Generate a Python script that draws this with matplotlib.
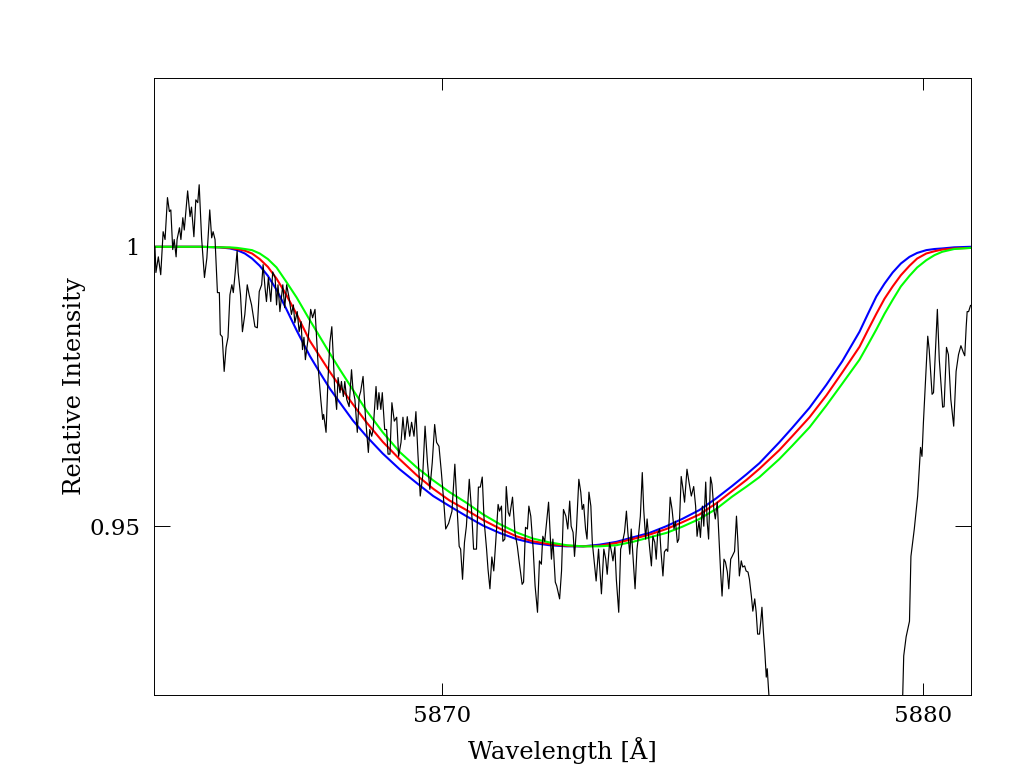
import matplotlib
matplotlib.use("Agg")
import matplotlib.pyplot as plt

wave_obs = [
    5864.02, 5864.04, 5864.09, 5864.14, 5864.19, 5864.23, 5864.28, 5864.32, 5864.35, 5864.39,
    5864.42, 5864.46, 5864.48, 5864.53, 5864.56, 5864.60, 5864.63, 5864.70, 5864.75, 5864.78,
    5864.83, 5864.87, 5864.91, 5864.94, 5864.99, 5865.05, 5865.10, 5865.16, 5865.20, 5865.23,
    5865.27, 5865.32, 5865.36, 5865.38, 5865.42, 5865.46, 5865.50, 5865.54, 5865.58, 5865.62,
    5865.65, 5865.68, 5865.73, 5865.75, 5865.80, 5865.84, 5865.89, 5865.94, 5865.98, 5866.03,
    5866.06, 5866.10, 5866.15, 5866.19, 5866.24, 5866.27, 5866.31, 5866.34, 5866.38, 5866.43,
    5866.47, 5866.52, 5866.55, 5866.58, 5866.62, 5866.68, 5866.72, 5866.76, 5866.81, 5866.86,
    5866.90, 5866.93, 5866.98, 5867.02, 5867.06, 5867.09, 5867.12, 5867.15, 5867.21, 5867.26,
    5867.30, 5867.35, 5867.42, 5867.47, 5867.51, 5867.53, 5867.58, 5867.62, 5867.66, 5867.70,
    5867.73, 5867.76, 5867.80, 5867.83, 5867.87, 5867.90, 5867.94, 5867.97, 5868.01, 5868.06,
    5868.11, 5868.14, 5868.18, 5868.23, 5868.27, 5868.30, 5868.35, 5868.40, 5868.46, 5868.49,
    5868.53, 5868.56, 5868.62, 5868.65, 5868.68, 5868.72, 5868.75, 5868.80, 5868.84, 5868.87,
    5868.91, 5868.95, 5869.00, 5869.05, 5869.09, 5869.14, 5869.18, 5869.22, 5869.27, 5869.32,
    5869.36, 5869.41, 5869.45, 5869.49, 5869.54, 5869.59, 5869.64, 5869.69, 5869.74, 5869.79,
    5869.84, 5869.88, 5869.93, 5869.98, 5870.03, 5870.07, 5870.13, 5870.20, 5870.26, 5870.31,
    5870.35, 5870.38, 5870.42, 5870.46, 5870.50, 5870.56, 5870.61, 5870.65, 5870.71, 5870.75,
    5870.79, 5870.83, 5870.87, 5870.92, 5870.95, 5870.99, 5871.03, 5871.07, 5871.11, 5871.16,
    5871.19, 5871.23, 5871.26, 5871.30, 5871.33, 5871.37, 5871.40, 5871.46, 5871.51, 5871.56,
    5871.61, 5871.66, 5871.69, 5871.73, 5871.77, 5871.80, 5871.84, 5871.89, 5871.93, 5871.98,
    5872.02, 5872.06, 5872.09, 5872.13, 5872.16, 5872.21, 5872.27, 5872.30, 5872.35, 5872.38,
    5872.44, 5872.48, 5872.52, 5872.57, 5872.61, 5872.65, 5872.68, 5872.72, 5872.75, 5872.79,
    5872.84, 5872.88, 5872.91, 5872.94, 5872.98, 5873.01, 5873.05, 5873.09, 5873.12, 5873.15,
    5873.20, 5873.25, 5873.31, 5873.36, 5873.40, 5873.43, 5873.48, 5873.52, 5873.55, 5873.59,
    5873.62, 5873.67, 5873.71, 5873.74, 5873.79, 5873.83, 5873.86, 5873.90, 5873.93, 5873.96,
    5874.01, 5874.05, 5874.08, 5874.12, 5874.16, 5874.19, 5874.23, 5874.26, 5874.31, 5874.35,
    5874.38, 5874.42, 5874.45, 5874.48, 5874.52, 5874.55, 5874.59, 5874.62, 5874.66, 5874.69,
    5874.74, 5874.78, 5874.82, 5874.85, 5874.89, 5874.92, 5874.97, 5875.00, 5875.04, 5875.09,
    5875.13, 5875.18, 5875.23, 5875.27, 5875.30, 5875.34, 5875.37, 5875.41, 5875.44, 5875.48,
    5875.51, 5875.54, 5875.58, 5875.61, 5875.65, 5875.68, 5875.72, 5875.75, 5875.79, 5875.82,
    5875.86, 5875.89, 5875.93, 5875.96, 5876.00, 5876.03, 5876.08, 5876.12, 5876.15, 5876.18,
    5876.22, 5876.25, 5876.29, 5876.32, 5876.36, 5876.39, 5876.43, 5876.46, 5876.50, 5876.53,
    5876.56, 5876.60, 5876.63, 5876.65, 5876.68, 5876.71, 5876.74, 5876.76, 5876.79, 5876.83,
    5879.55, 5879.58, 5879.60, 5879.65, 5879.72, 5879.75, 5879.82, 5879.89, 5879.95, 5879.98,
    5880.01, 5880.10, 5880.13, 5880.19, 5880.22, 5880.30, 5880.34, 5880.41, 5880.44, 5880.49,
    5880.53, 5880.58, 5880.64, 5880.69, 5880.74, 5880.79, 5880.84, 5880.87, 5880.90, 5880.92,
    5880.95, 5880.99,
]
flux_obs = [
    1.0000, 0.9954, 0.9982, 0.9950, 1.0027, 1.0013, 1.0088, 1.0063, 1.0066, 0.9995,
    1.0013, 0.9982, 1.0013, 1.0034, 1.0013, 1.0052, 1.0030, 1.0100, 1.0054, 1.0071,
    1.0018, 1.0084, 1.0079, 1.0111, 1.0016, 0.9945, 0.9980, 1.0066, 1.0016, 1.0027,
    1.0013, 0.9918, 0.9918, 0.9843, 0.9839, 0.9777, 0.9820, 0.9838, 0.9914, 0.9932,
    0.9918, 0.9945, 0.9993, 0.9955, 0.9914, 0.9848, 0.9879, 0.9932, 0.9914, 0.9896,
    0.9879, 0.9857, 0.9855, 0.9920, 0.9932, 0.9968, 0.9927, 0.9902, 0.9945, 0.9902,
    0.9955, 0.9945, 0.9896, 0.9932, 0.9884, 0.9932, 0.9891, 0.9932, 0.9909, 0.9879,
    0.9896, 0.9864, 0.9884, 0.9848, 0.9866, 0.9816, 0.9838, 0.9798, 0.9838, 0.9888,
    0.9873, 0.9888, 0.9780, 0.9727, 0.9691, 0.9700, 0.9668, 0.9762, 0.9829, 0.9857,
    0.9804, 0.9745, 0.9709, 0.9766, 0.9739, 0.9759, 0.9732, 0.9759, 0.9727, 0.9714,
    0.9780, 0.9745, 0.9727, 0.9668, 0.9732, 0.9741, 0.9768, 0.9696, 0.9632, 0.9673,
    0.9661, 0.9673, 0.9750, 0.9709, 0.9739, 0.9709, 0.9739, 0.9673, 0.9673, 0.9629,
    0.9629, 0.9721, 0.9688, 0.9695, 0.9625, 0.9650, 0.9695, 0.9655, 0.9696, 0.9661,
    0.9686, 0.9661, 0.9705, 0.9632, 0.9554, 0.9589, 0.9679, 0.9614, 0.9566, 0.9614,
    0.9682, 0.9650, 0.9643, 0.9596, 0.9543, 0.9495, 0.9505, 0.9527, 0.9611, 0.9527,
    0.9464, 0.9459, 0.9405, 0.9471, 0.9500, 0.9584, 0.9525, 0.9459, 0.9459, 0.9570,
    0.9570, 0.9588, 0.9509, 0.9459, 0.9423, 0.9388, 0.9445, 0.9420, 0.9471, 0.9539,
    0.9527, 0.9536, 0.9473, 0.9477, 0.9571, 0.9525, 0.9518, 0.9552, 0.9489, 0.9464,
    0.9429, 0.9396, 0.9400, 0.9498, 0.9495, 0.9536, 0.9518, 0.9459, 0.9393, 0.9346,
    0.9438, 0.9432, 0.9482, 0.9473, 0.9500, 0.9543, 0.9441, 0.9477, 0.9400, 0.9393,
    0.9370, 0.9420, 0.9530, 0.9518, 0.9495, 0.9545, 0.9500, 0.9489, 0.9446, 0.9495,
    0.9584, 0.9561, 0.9530, 0.9539, 0.9495, 0.9477, 0.9561, 0.9536, 0.9471, 0.9445,
    0.9402, 0.9459, 0.9379, 0.9459, 0.9441, 0.9414, 0.9471, 0.9454, 0.9438, 0.9463,
    0.9405, 0.9346, 0.9459, 0.9468, 0.9489, 0.9527, 0.9489, 0.9450, 0.9495, 0.9454,
    0.9388, 0.9459, 0.9482, 0.9518, 0.9596, 0.9530, 0.9477, 0.9513, 0.9464, 0.9429,
    0.9482, 0.9471, 0.9441, 0.9486, 0.9495, 0.9454, 0.9411, 0.9454, 0.9459, 0.9455,
    0.9552, 0.9530, 0.9495, 0.9509, 0.9471, 0.9477, 0.9589, 0.9571, 0.9543, 0.9602,
    0.9580, 0.9554, 0.9571, 0.9536, 0.9482, 0.9509, 0.9480, 0.9536, 0.9500, 0.9579,
    0.9509, 0.9477, 0.9588, 0.9575, 0.9530, 0.9513, 0.9543, 0.9489, 0.9418, 0.9375,
    0.9441, 0.9436, 0.9418, 0.9388, 0.9441, 0.9446, 0.9455, 0.9518, 0.9471, 0.9411,
    0.9438, 0.9427, 0.9429, 0.9420, 0.9418, 0.9405, 0.9375, 0.9348, 0.9370, 0.9346,
    0.9307, 0.9307, 0.9334, 0.9355, 0.9311, 0.9275, 0.9230, 0.9245, 0.9204, 0.9155,
    0.9155, 0.9200, 0.9268, 0.9302, 0.9330, 0.9446, 0.9495, 0.9554, 0.9641, 0.9625,
    0.9686, 0.9840, 0.9816, 0.9736, 0.9739, 0.9888, 0.9798, 0.9713, 0.9714, 0.9820,
    0.9807, 0.9727, 0.9679, 0.9777, 0.9807, 0.9823, 0.9811, 0.9805, 0.9857, 0.9884,
    0.9884, 0.9895,
]

# model profiles, read at the same wavelengths
wave_model = [
    5864.00, 5864.96, 5865.37, 5865.58, 5865.73, 5865.89, 5866.04, 5866.20, 5866.37, 5866.55,
    5866.74, 5866.97, 5867.24, 5867.45, 5867.66, 5867.87, 5868.14, 5868.42, 5868.76, 5869.11,
    5869.47, 5869.81, 5870.15, 5870.50, 5870.85, 5871.19, 5871.54, 5871.88, 5872.23, 5872.59,
    5872.93, 5873.27, 5873.62, 5873.96, 5874.31, 5874.66, 5874.99, 5875.35, 5875.70, 5876.03,
    5876.33, 5876.60, 5877.01, 5877.28, 5877.64, 5877.99, 5878.32, 5878.68, 5878.85, 5879.03,
    5879.20, 5879.37, 5879.54, 5879.72, 5879.88, 5880.07, 5880.24, 5880.40, 5880.65, 5881.00,
]
flux_blue = [
    1.0000, 1.0000, 0.9999, 0.9997, 0.9994, 0.9988, 0.9979, 0.9966, 0.9948, 0.9923,
    0.9891, 0.9850, 0.9805, 0.9775, 0.9746, 0.9721, 0.9689, 0.9661, 0.9630, 0.9602,
    0.9577, 0.9554, 0.9536, 0.9518, 0.9501, 0.9488, 0.9477, 0.9470, 0.9466, 0.9464,
    0.9464, 0.9467, 0.9472, 0.9480, 0.9488, 0.9500, 0.9513, 0.9529, 0.9550, 0.9572,
    0.9593, 0.9613, 0.9650, 0.9676, 0.9712, 0.9753, 0.9795, 0.9848, 0.9879, 0.9911,
    0.9934, 0.9954, 0.9970, 0.9982, 0.9989, 0.9994, 0.9996, 0.9997, 0.9999, 1.0000,
]
flux_red = [
    1.0000, 1.0000, 0.9999, 0.9998, 0.9996, 0.9993, 0.9988, 0.9978, 0.9964, 0.9943,
    0.9916, 0.9879, 0.9832, 0.9804, 0.9776, 0.9750, 0.9718, 0.9686, 0.9651, 0.9620,
    0.9591, 0.9567, 0.9546, 0.9529, 0.9511, 0.9496, 0.9482, 0.9473, 0.9468, 0.9465,
    0.9464, 0.9465, 0.9470, 0.9477, 0.9485, 0.9495, 0.9507, 0.9521, 0.9541, 0.9563,
    0.9583, 0.9603, 0.9636, 0.9661, 0.9695, 0.9734, 0.9775, 0.9821, 0.9850, 0.9880,
    0.9907, 0.9929, 0.9949, 0.9966, 0.9979, 0.9988, 0.9992, 0.9995, 0.9997, 0.9998,
]
flux_green = [
    1.0000, 1.0000, 0.9999, 0.9999, 0.9998, 0.9996, 0.9994, 0.9988, 0.9978, 0.9963,
    0.9939, 0.9909, 0.9869, 0.9839, 0.9809, 0.9780, 0.9744, 0.9707, 0.9668, 0.9633,
    0.9605, 0.9582, 0.9561, 0.9542, 0.9521, 0.9504, 0.9489, 0.9478, 0.9471, 0.9466,
    0.9464, 0.9464, 0.9466, 0.9472, 0.9480, 0.9488, 0.9499, 0.9513, 0.9531, 0.9553,
    0.9571, 0.9588, 0.9620, 0.9644, 0.9677, 0.9716, 0.9755, 0.9798, 0.9824, 0.9852,
    0.9880, 0.9905, 0.9929, 0.9948, 0.9963, 0.9976, 0.9985, 0.9991, 0.9996, 0.9998,
]

x_ticks = [5870, 5880]
x_ticklabels = ["5870", "5880"]
y_ticks = [0.95, 1.0]
y_ticklabels = ["0.95", "1"]

plt.rcParams["font.family"] = ["DejaVu Serif"]

fig = plt.figure(figsize=(10.21, 7.71), dpi=100)
ax = fig.add_axes([154 / 1021, 76 / 771, 817 / 1021, 617 / 771])

ax.plot(wave_model, flux_blue, color="#0000ff", lw=1.5, zorder=2)
ax.plot(wave_model, flux_red, color="#ff0000", lw=1.5, zorder=2)
ax.plot(wave_model, flux_green, color="#00ff00", lw=1.5, zorder=2)
ax.plot(wave_obs, flux_obs, color="black", lw=0.85, zorder=3)

ax.set_xlim(5864.0, 5881.0)
ax.set_ylim(0.9198, 1.0302)

ax.set_xticks(x_ticks)
ax.set_xticklabels(x_ticklabels)
ax.set_yticks(y_ticks)
ax.set_yticklabels(y_ticklabels)
ax.minorticks_off()
ax.tick_params(axis="x", direction="in", top=True, length=8.6, width=0.7, pad=7, labelsize=16.5)
ax.tick_params(axis="y", direction="in", right=True, length=11.5, width=0.7, pad=10, labelsize=16.5)
for sp in ax.spines.values():
    sp.set_linewidth(0.7)

ax.set_xlabel("Wavelength [Å]", fontsize=17.5)
ax.set_ylabel("Relative Intensity", fontsize=17.5)
ax.xaxis.set_label_coords(0.5, -0.068)
ax.yaxis.set_label_coords(-0.083, 0.5)

fig.savefig("out.png", dpi=100)
